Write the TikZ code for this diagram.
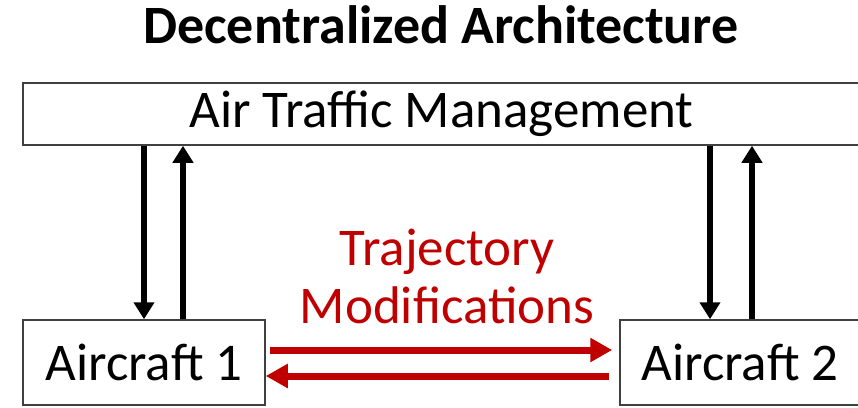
\documentclass[tikz,border=0pt]{standalone}
\usepackage{fontspec}
\setmainfont{Carlito}
\usetikzlibrary{arrows.meta}

\definecolor{trajred}{HTML}{C00000}

\tikzset{
    box/.style={draw=black!75, line width=1.5bp, inner sep=0pt, font=\fontsize{53bp}{60bp}\selectfont},
    link/.style={line width=6bp, -{Triangle[width=20bp,length=17bp]}},
    mod/.style={trajred, line width=7bp, -{Triangle[width=23bp,length=22bp]}}
}

\begin{document}
\begin{tikzpicture}[x=1bp, y=1bp]
        \useasboundingbox (0, 0) rectangle (858, 407);

        \node[anchor=base, font=\fontsize{54bp}{60bp}\selectfont\bfseries] (title) at (441, 364) {Decentralized Architecture};

        \node[box, minimum width=837bp, minimum height=62bp] (atm) at (441.5, 293) {Air Traffic Management};
        \node[box, minimum width=242bp, minimum height=85bp] (ac1) at (144, 44.5) {Aircraft 1};
        \node[box, minimum width=240bp, minimum height=85bp] (ac2) at (740, 44.5) {Aircraft 2};

        % ATM <-> aircraft
        \draw[link] (ac1.north |- atm.south) -- (ac1.north);
        \draw[link] ([xshift=39bp]ac1.north) -- ([xshift=39bp]ac1.north |- atm.south);
        \draw[link] ([xshift=-30bp]ac2.north |- atm.south) -- ([xshift=-30bp]ac2.north);
        \draw[link] ([xshift=12bp]ac2.north) -- ([xshift=12bp]ac2.north |- atm.south);

        % aircraft <-> aircraft
        \draw[mod] ([shift={(4bp,12.5bp)}]ac1.east) -- ([shift={(-7bp,12.5bp)}]ac2.west);
        \draw[mod] ([shift={(-10bp,-13.5bp)}]ac2.west) -- ([yshift=-13.5bp]ac1.east);

        \node[trajred, align=center, font=\fontsize{53bp}{58bp}\selectfont] (traj) at (447, 131) {Trajectory\\Modifications};
    \end{tikzpicture}
\end{document}
